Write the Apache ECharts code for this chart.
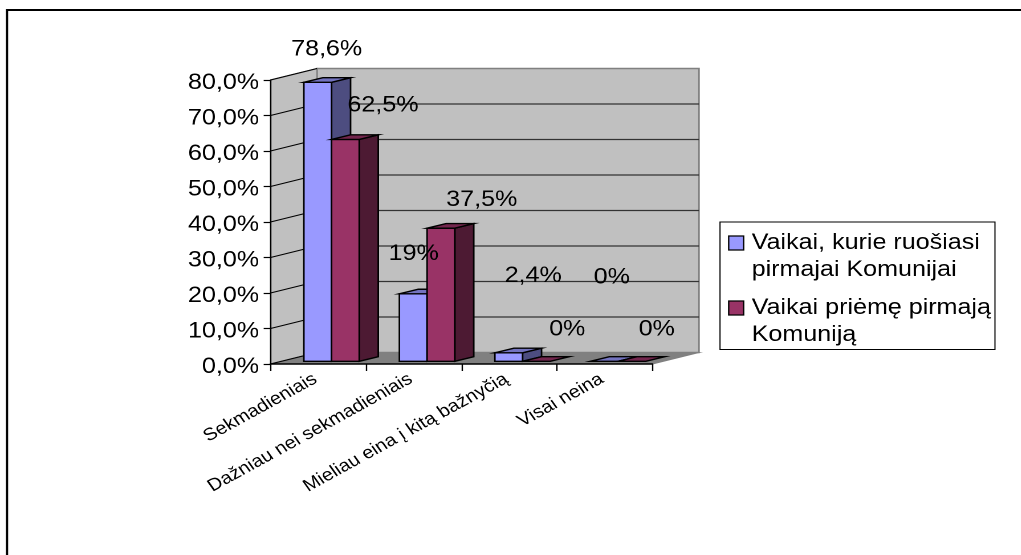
<!DOCTYPE html>
<html><head><meta charset="utf-8">
<script src="https://cdn.jsdelivr.net/npm/echarts@6/dist/echarts.min.js"></script>
<style>html,body{margin:0;padding:0;background:#fff;overflow:hidden;width:1021px;height:555px}
#main{width:895.6px;height:555px;transform:scaleX(1.14);transform-origin:0 0}</style></head>
<body><div id="main"></div>
<script>
const categories = ['Sekmadieniais','Dažniau nei sekmadieniais','Mieliau eina į kitą bažnyčią','Visai neina'];
const seriesNameA = 'Vaikai, kurie ruošiasi\npirmajai Komunijai';
const seriesNameB = 'Vaikai priėmę pirmają\nKomuniją';
const valuesA = [78.6, 19, 2.4, 0];
const valuesB = [62.5, 37.5, 0, 0];
const labelsA = ['78,6%','19%','2,4%','0%'];
const labelsB = ['62,5%','37,5%','0%','0%'];
const yTicks = [0,10,20,30,40,50,60,70,80];
const yTickLabels = ['0,0%','10,0%','20,0%','30,0%','40,0%','50,0%','60,0%','70,0%','80,0%'];

// layout (reference px; x values get divided by the page stretch K)
const K = 1.14;
const WALL = {dx:46.5/K, dy:-11.5};
const BAR = {shiftX:13.3/K, shiftY:-2.7, w:27.7/K, dx:19/K, dy:-4.6};
const nudgeA = [[8.4,-32.7],[0,-40],[24,-77],[7,-84]];
const nudgeB = [[64.75,-34],[68,-28],[58,-32],[52,-32]];
const FONT = 'Liberation Sans';
const FS = 22;
const ICON = 'path://M0 0H13.16V14H0ZM6 41L6 41';

const chart = echarts.init(document.getElementById('main'), null, {devicePixelRatio:2});

function poly(points, fill, stroke, lw){
  return {type:'polygon', shape:{points}, style:{fill, stroke:stroke||null, lineWidth:lw||0}};
}
function barRenderer(sign, front, side, top){
  return function(params, api){
    const c = api.coord([api.value(0), api.value(1)]);
    const base = api.coord([api.value(0), 0]);
    const xa = c[0]+BAR.shiftX+(sign<0?-BAR.w:0), xb = xa+BAR.w;
    const yT = c[1]+BAR.shiftY, yB = base[1]+BAR.shiftY;
    const children = [];
    if (yB-yT > 0.5) {
      children.push(poly([[xb,yT],[xb+BAR.dx,yT+BAR.dy],[xb+BAR.dx,yB+BAR.dy],[xb,yB]], side,'#000',1.4));
      children.push(poly([[xa,yT],[xb,yT],[xb,yB],[xa,yB]], front,'#000',1.4));
    }
    children.push(poly([[xa,yT],[xb,yT],[xb+BAR.dx,yT+BAR.dy],[xa+BAR.dx,yT+BAR.dy]], top,'#000',1.4));
    return {type:'group', children};
  };
}
function wallRenderer(params, api){
  const a = api.coord([0,0]), b = api.coord([0,80]);
  const band = api.size([1,0])[0];
  const x0 = a[0]-band/2, x1 = x0+band*categories.length, y0 = a[1], y8 = b[1];
  const d = WALL;
  return {type:'group', children:[
    poly([[x0+d.dx,y8+d.dy],[x1+d.dx,y8+d.dy],[x1+d.dx,y0+d.dy],[x0+d.dx,y0+d.dy]],'#c0c0c0','#808080',1.4),
    poly([[x0,y0],[x0+d.dx,y0+d.dy],[x0+d.dx,y8+d.dy],[x0,y8]],'#c0c0c0','#808080',1.2),
    poly([[x0,y0],[x1,y0],[x1+d.dx,y0+d.dy],[x0+d.dx,y0+d.dy]],'#808080','#808080',1)
  ]};
}
function gridRenderer(params, api){
  const v = api.value(1);
  const p = api.coord([0,v]);
  const band = api.size([1,0])[0];
  const x0 = p[0]-band/2, x1 = x0+band*categories.length, d = WALL;
  const children = [{type:'line', shape:{x1:x0,y1:p[1],x2:x0+d.dx,y2:p[1]+d.dy}, style:{stroke:'#000',lineWidth:1}}];
  if (v>0 && v<80) children.push({type:'line', shape:{x1:x0+d.dx,y1:p[1]+d.dy,x2:x1+d.dx,y2:p[1]+d.dy}, style:{stroke:'#333',lineWidth:1.3}});
  return {type:'group', children};
}
function labelRenderer(texts, nudges){
  return function(params, api){
    const i = params.dataIndex;
    const c = api.coord([api.value(0), api.value(1)]);
    return {type:'text', style:{
      text:texts[i], x:c[0]+nudges[i][0]/K, y:c[1]+BAR.shiftY+nudges[i][1],
      align:'center', verticalAlign:'middle', fontFamily:FONT, fontSize:FS, fill:'#000'}};
  };
}
const rows = vals => vals.map((v,i)=>[i,v]);

chart.setOption({
  animation:false,
  backgroundColor:'#fff',
  graphic:[{type:'polyline', z:0, silent:true, shape:{points:[[7/K,560],[7/K,10],[1021/K,10]]}, style:{fill:'none',stroke:'#000',lineWidth:2}}],
  grid:{left:270.5/K, top:80, width:382/K, height:284, containLabel:false},
  legend:{
    left:720/K, top:222, orient:'vertical', selectedMode:false, symbolKeepAspect:false,
    data:[{name:seriesNameA, icon:ICON},{name:seriesNameB, icon:ICON}],
    itemWidth:15/K, itemHeight:41, itemGap:11, align:'left',
    padding:[7.5,4/K,1,8/K], backgroundColor:'#fff', borderColor:'#000', borderWidth:1,
    itemStyle:{borderColor:'#000', borderWidth:1.2},
    textStyle:{fontFamily:FONT, fontSize:FS, color:'#000', lineHeight:27, padding:[0,0,0,2]}
  },
  xAxis:{type:'category', data:categories, z:6,
    axisLine:{lineStyle:{color:'#000',width:1.5}},
    axisTick:{show:true, length:7, lineStyle:{color:'#000',width:1.2}},
    axisLabel:{interval:0, rotate:32, margin:12, padding:[0,3,0,0], fontFamily:FONT, fontSize:17.5, color:'#000'}
  },
  yAxis:{type:'value', min:0, max:80, interval:10, z:6,
    splitLine:{show:false},
    axisLine:{show:true, lineStyle:{color:'#000',width:1.2}},
    axisTick:{show:true, length:6, lineStyle:{color:'#000',width:1.2}},
    axisLabel:{margin:10, fontFamily:FONT, fontSize:FS, color:'#000',
      formatter:v=>'{t|'+yTickLabels[yTicks.indexOf(v)]+'}',
      rich:{t:{fontFamily:FONT, fontSize:FS, color:'#000', padding:[6,0,0,0]}}}
  },
  series:[
    {type:'custom', name:'wall', z:1, silent:true, data:[[0,0]], encode:{x:0,y:1}, renderItem:wallRenderer},
    {type:'custom', name:'grid', z:1.5, silent:true, data:yTicks.map(v=>[0,v]), encode:{x:0,y:1}, renderItem:gridRenderer},
    {type:'custom', name:seriesNameA, z:2, silent:true, itemStyle:{color:'#9999ff'}, data:rows(valuesA), encode:{x:0,y:1},
      renderItem:barRenderer(-1,'#9999ff','#4d4d80','#7373bf')},
    {type:'custom', name:seriesNameB, z:3, silent:true, itemStyle:{color:'#993366'}, data:rows(valuesB), encode:{x:0,y:1},
      renderItem:barRenderer(1,'#993366','#4d1a33','#73264d')},
    {type:'custom', name:'labelsA', z:8, silent:true, data:rows(valuesA), encode:{x:0,y:1}, renderItem:labelRenderer(labelsA,nudgeA)},
    {type:'custom', name:'labelsB', z:8, silent:true, data:rows(valuesB), encode:{x:0,y:1}, renderItem:labelRenderer(labelsB,nudgeB)}
  ]
});
</script></body></html>
